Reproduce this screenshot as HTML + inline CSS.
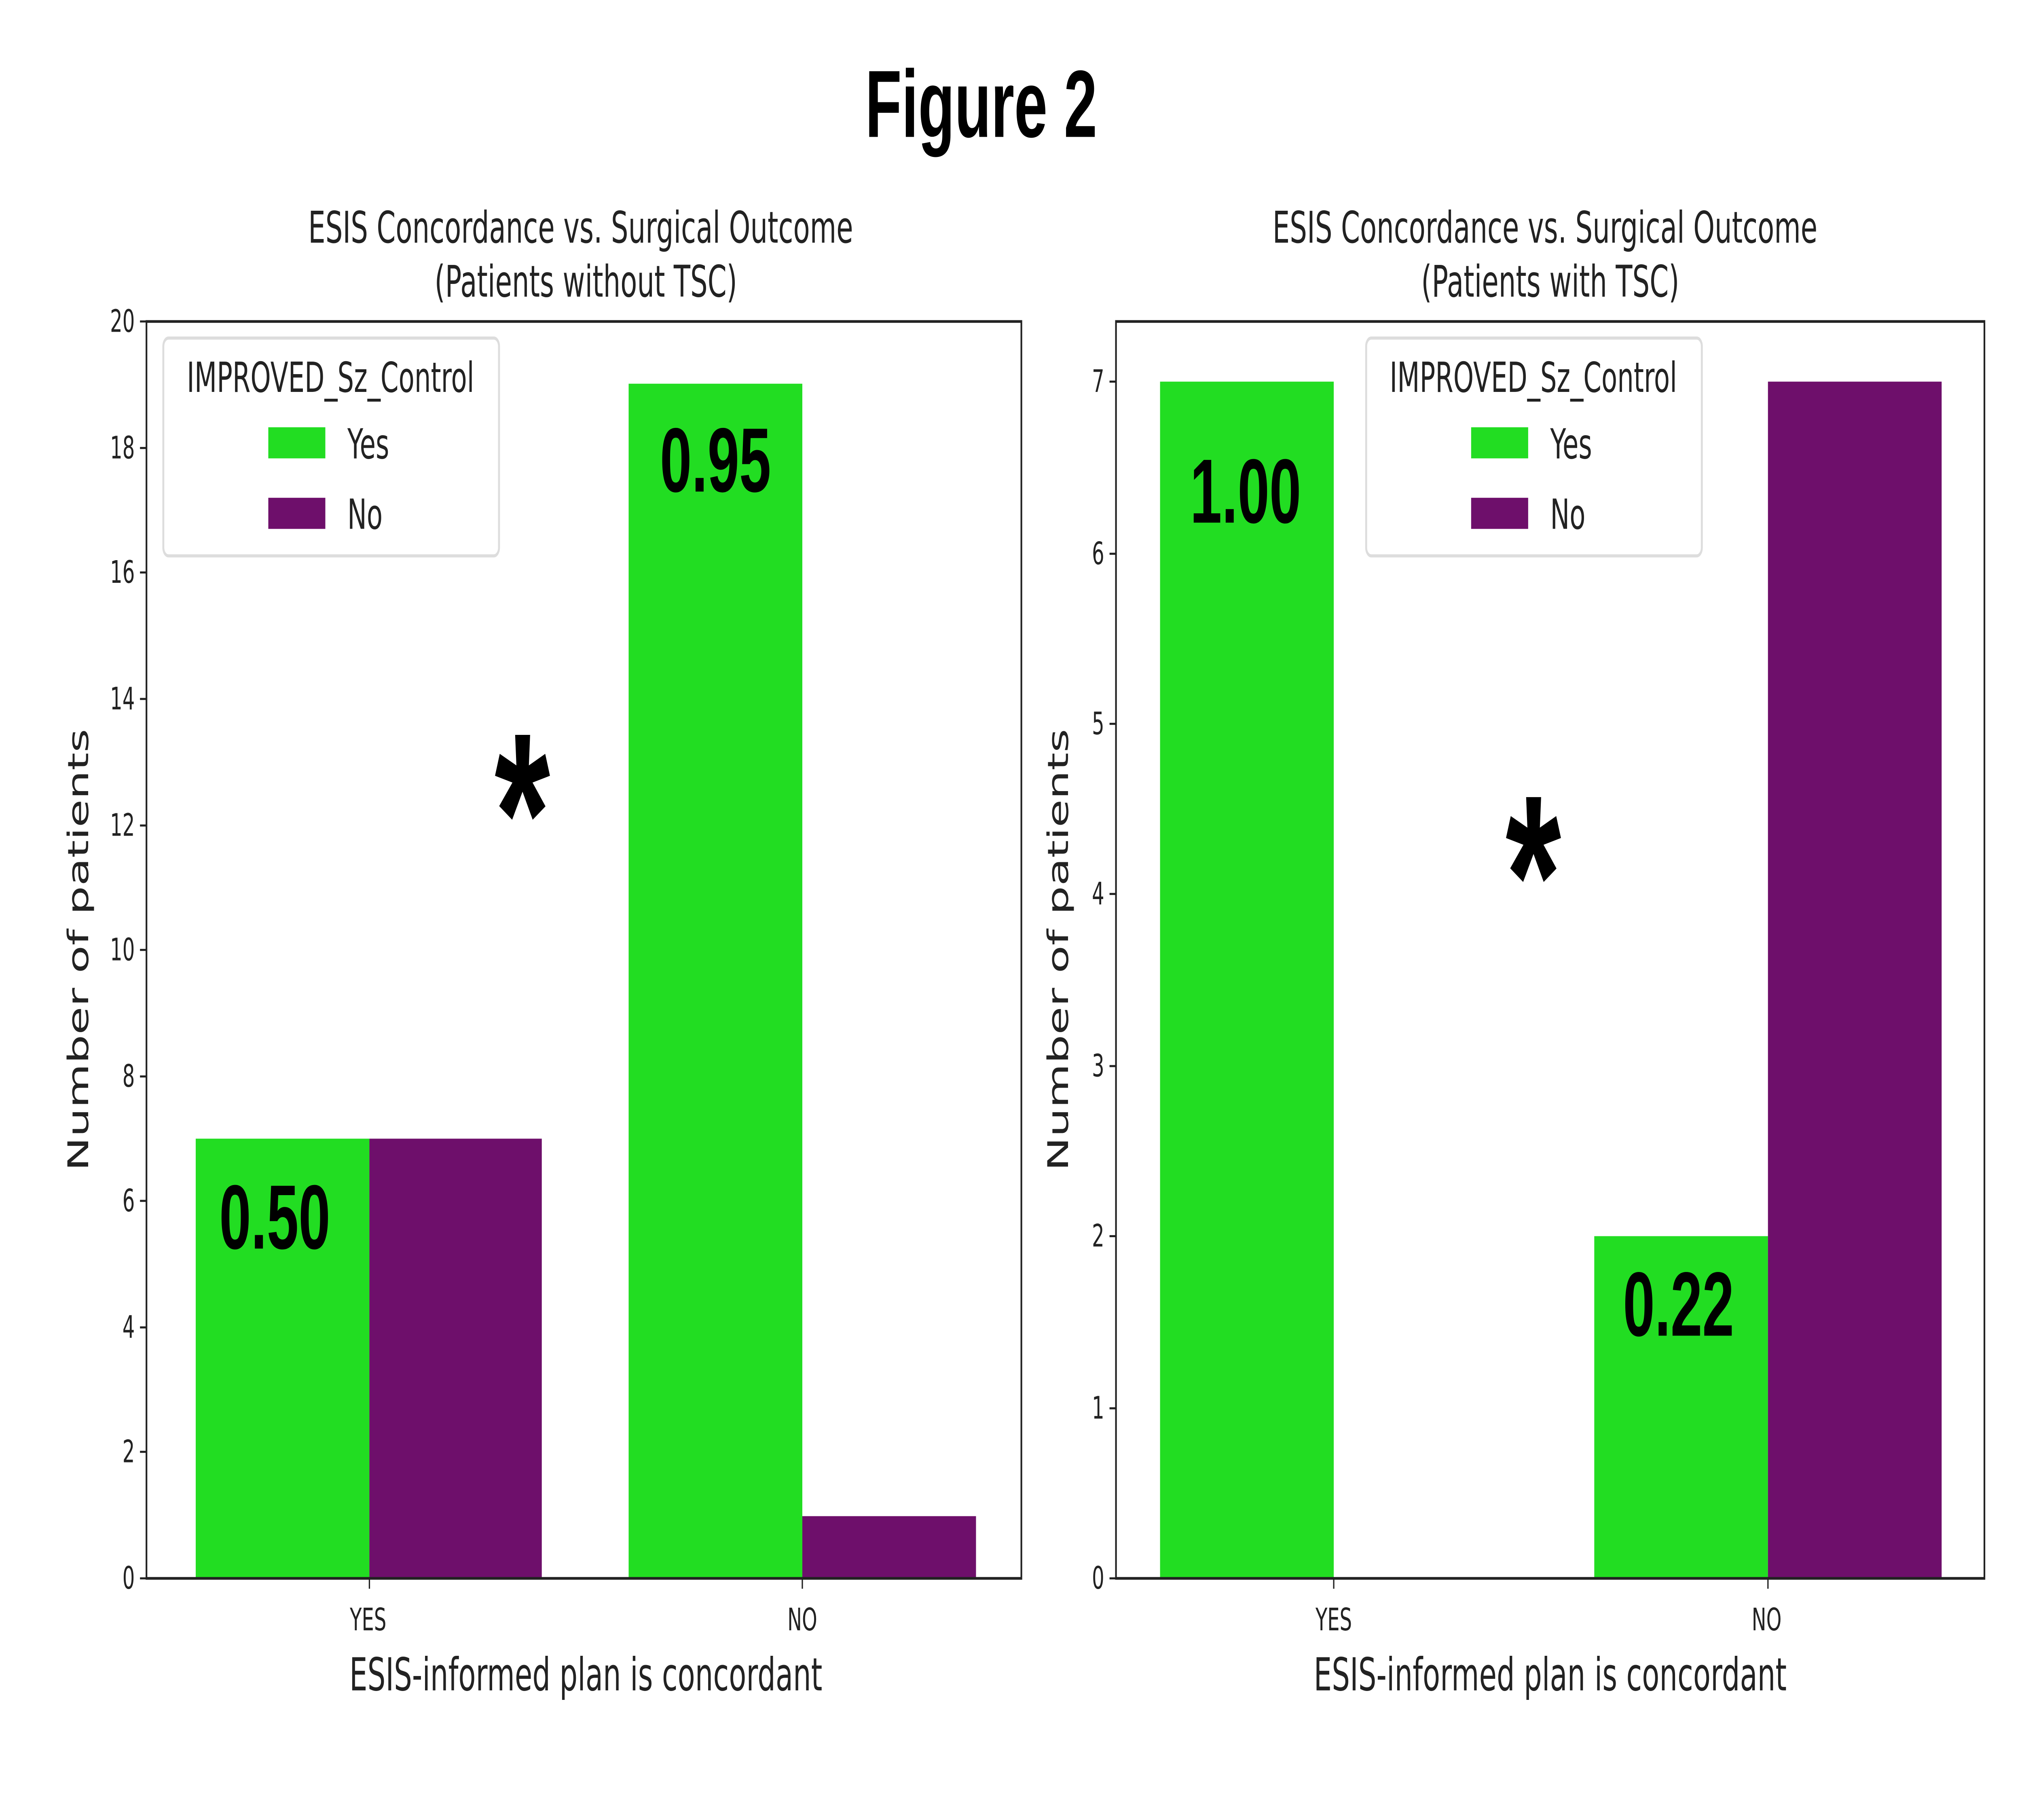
<!DOCTYPE html>
<html><head><meta charset="utf-8"><style>
html,body{margin:0;padding:0;background:#fff;width:100%;height:100%;overflow:hidden;}
svg{display:block;width:100vw;height:100vh;}
text{font-family:"DejaVu Sans","Liberation Sans",sans-serif;fill:#222;}
.b{font-family:"Liberation Sans",sans-serif;font-weight:bold;fill:#000;}
</style></head><body>
<svg viewBox="0 0 1560 877.5" preserveAspectRatio="none" xmlns="http://www.w3.org/2000/svg">
<rect width="1560" height="877.5" fill="#fff"/>
<text x="757" y="66" text-anchor="middle" class="b" font-size="46">Figure 2</text>

<g>
<text x="448" y="117" text-anchor="middle" font-size="21">ESIS Concordance vs. Surgical Outcome</text>
<text x="452" y="143" text-anchor="middle" font-size="21">(Patients without TSC)</text>
<rect x="151" y="549" width="134" height="212" fill="#22DD22"/>
<rect x="285" y="549" width="133" height="212" fill="#6E0F6B"/>
<rect x="485" y="185" width="134" height="576" fill="#22DD22"/>
<rect x="619" y="731" width="134" height="30" fill="#6E0F6B"/>
<rect x="113" y="155" width="675" height="606" fill="none" stroke="#222" stroke-width="1.3"/>
<g font-size="15" text-anchor="end">
<text x="104" y="766">0</text><line x1="108" x2="113" y1="761" y2="761" stroke="#222"/>
<text x="104" y="705">2</text><line x1="108" x2="113" y1="700" y2="700" stroke="#222"/>
<text x="104" y="645">4</text><line x1="108" x2="113" y1="640" y2="640" stroke="#222"/>
<text x="104" y="584">6</text><line x1="108" x2="113" y1="579" y2="579" stroke="#222"/>
<text x="104" y="524">8</text><line x1="108" x2="113" y1="519" y2="519" stroke="#222"/>
<text x="104" y="463">10</text><line x1="108" x2="113" y1="458" y2="458" stroke="#222"/>
<text x="104" y="403">12</text><line x1="108" x2="113" y1="398" y2="398" stroke="#222"/>
<text x="104" y="342">14</text><line x1="108" x2="113" y1="337" y2="337" stroke="#222"/>
<text x="104" y="281">16</text><line x1="108" x2="113" y1="276" y2="276" stroke="#222"/>
<text x="104" y="221">18</text><line x1="108" x2="113" y1="216" y2="216" stroke="#222"/>
<text x="104" y="160">20</text><line x1="108" x2="113" y1="155" y2="155" stroke="#222"/>
</g>
<line x1="285" x2="285" y1="761" y2="766" stroke="#222"/>
<line x1="619" x2="619" y1="761" y2="766" stroke="#222"/>
<text x="284" y="786" text-anchor="middle" font-size="15">YES</text>
<text x="619" y="786" text-anchor="middle" font-size="15">NO</text>
<text x="452" y="815" text-anchor="middle" font-size="22">ESIS-informed plan is concordant</text>
<text transform="translate(68,458) rotate(-90)" text-anchor="middle" font-size="22">Number of patients</text>
<rect x="126" y="163" width="259" height="105" rx="4" fill="#fff" fill-opacity="0.85" stroke="#ddd" stroke-width="1.5"/>
<text x="255" y="189" text-anchor="middle" font-size="20">IMPROVED_Sz_Control</text>
<rect x="207" y="206" width="44" height="15" fill="#22DD22"/>
<text x="268" y="221" font-size="20">Yes</text>
<rect x="207" y="240" width="44" height="15" fill="#6E0F6B"/>
<text x="268" y="255" font-size="20">No</text>
<text x="212" y="602" text-anchor="middle" class="b" font-size="44">0.50</text>
<text x="552" y="237" text-anchor="middle" class="b" font-size="44">0.95</text>
<text x="403" y="430" text-anchor="middle" class="b" font-size="110">*</text>
</g>

<g>
<text x="1192" y="117" text-anchor="middle" font-size="21">ESIS Concordance vs. Surgical Outcome</text>
<text x="1196" y="143" text-anchor="middle" font-size="21">(Patients with TSC)</text>
<rect x="895" y="184" width="134" height="577" fill="#22DD22"/>
<rect x="1230" y="596" width="134" height="165" fill="#22DD22"/>
<rect x="1364" y="184" width="134" height="577" fill="#6E0F6B"/>
<rect x="861" y="155" width="670" height="606" fill="none" stroke="#222" stroke-width="1.3"/>
<g font-size="15" text-anchor="end">
<text x="852" y="766">0</text><line x1="856" x2="861" y1="761" y2="761" stroke="#222"/>
<text x="852" y="684">1</text><line x1="856" x2="861" y1="679" y2="679" stroke="#222"/>
<text x="852" y="601">2</text><line x1="856" x2="861" y1="596" y2="596" stroke="#222"/>
<text x="852" y="519">3</text><line x1="856" x2="861" y1="514" y2="514" stroke="#222"/>
<text x="852" y="436">4</text><line x1="856" x2="861" y1="431" y2="431" stroke="#222"/>
<text x="852" y="354">5</text><line x1="856" x2="861" y1="349" y2="349" stroke="#222"/>
<text x="852" y="272">6</text><line x1="856" x2="861" y1="267" y2="267" stroke="#222"/>
<text x="852" y="189">7</text><line x1="856" x2="861" y1="184" y2="184" stroke="#222"/>
</g>
<line x1="1029" x2="1029" y1="761" y2="766" stroke="#222"/>
<line x1="1364" x2="1364" y1="761" y2="766" stroke="#222"/>
<text x="1029" y="786" text-anchor="middle" font-size="15">YES</text>
<text x="1363" y="786" text-anchor="middle" font-size="15">NO</text>
<text x="1196" y="815" text-anchor="middle" font-size="22">ESIS-informed plan is concordant</text>
<text transform="translate(824,458) rotate(-90)" text-anchor="middle" font-size="22">Number of patients</text>
<rect x="1054" y="163" width="259" height="105" rx="4" fill="#fff" fill-opacity="0.85" stroke="#ddd" stroke-width="1.5"/>
<text x="1183" y="189" text-anchor="middle" font-size="20">IMPROVED_Sz_Control</text>
<rect x="1135" y="206" width="44" height="15" fill="#22DD22"/>
<text x="1196" y="221" font-size="20">Yes</text>
<rect x="1135" y="240" width="44" height="15" fill="#6E0F6B"/>
<text x="1196" y="255" font-size="20">No</text>
<text x="961" y="252" text-anchor="middle" class="b" font-size="44">1.00</text>
<text x="1295" y="644" text-anchor="middle" class="b" font-size="44">0.22</text>
<text x="1183" y="460" text-anchor="middle" class="b" font-size="110">*</text>
</g>
</svg>
</body></html>
